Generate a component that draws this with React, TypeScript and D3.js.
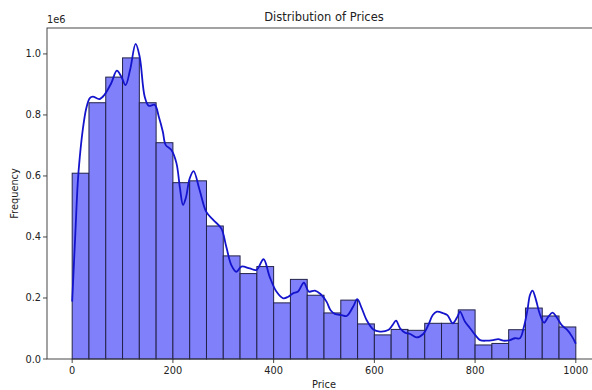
import React from "react";
import * as d3 from "d3";

const binStart = 0;
const binEnd = 1000;
const binCounts = [
  0.609, 0.84, 0.924, 0.987, 0.84, 0.709, 0.578, 0.584, 0.436, 0.338,
  0.28, 0.303, 0.184, 0.261, 0.209, 0.151, 0.193, 0.115, 0.079, 0.097,
  0.094, 0.117, 0.117, 0.161, 0.046, 0.051, 0.096, 0.167, 0.141, 0.105,
].map((v) => v * 1e6);

const kdePrice = [
  0, 6.5, 11, 15, 21, 28, 35, 41, 54, 64, 77.5, 88.7, 97.4, 106, 115, 126, 134, 144, 152, 164,
  172, 180, 185.5, 197, 207, 214, 220, 226, 233, 241, 253, 266, 280, 296, 306, 316, 326, 336,
  352.5, 366, 380, 392, 405.5, 419, 429, 438.5, 448.5, 460, 470, 482, 493, 505, 513, 521.5, 535,
  545, 558, 566, 575, 584.5, 598, 611, 627.5, 636, 643, 651, 661, 671, 684, 697, 707, 716, 724,
  737, 745, 755.5, 765, 770, 780, 790, 800, 810, 823, 836, 846, 856, 869, 879, 889, 897, 904,
  909, 914, 921, 928, 937, 945.5, 954, 962, 972, 982, 992, 1000,
];
const kdeValue = [
  0.188, 0.42, 0.576, 0.66, 0.751, 0.822, 0.855, 0.86, 0.852, 0.866, 0.904, 0.945, 0.926, 0.898,
  0.948, 1.033, 0.991, 0.86, 0.83, 0.833, 0.794, 0.745, 0.702, 0.685, 0.642, 0.56, 0.505, 0.53,
  0.59, 0.616, 0.554, 0.483, 0.456, 0.428, 0.368, 0.308, 0.286, 0.303, 0.297, 0.292, 0.327, 0.27,
  0.221, 0.199, 0.204, 0.215, 0.221, 0.25, 0.221, 0.224, 0.213, 0.188, 0.16, 0.148, 0.144, 0.141,
  0.172, 0.196, 0.166, 0.128, 0.097, 0.09, 0.095, 0.111, 0.126, 0.101, 0.086, 0.082, 0.071,
  0.082, 0.111, 0.144, 0.155, 0.15, 0.144, 0.117, 0.139, 0.155, 0.122, 0.101, 0.079, 0.062, 0.06,
  0.062, 0.065, 0.06, 0.062, 0.068, 0.068, 0.106, 0.161, 0.21, 0.224, 0.193, 0.15, 0.119, 0.139,
  0.152, 0.137, 0.111, 0.097, 0.075, 0.05,
].map((v) => v * 1e6);

const xTicks = [0, 200, 400, 600, 800, 1000];
const yTicks = [0, 0.2e6, 0.4e6, 0.6e6, 0.8e6, 1.0e6];
const yTickLabels = ["0.0", "0.2", "0.4", "0.6", "0.8", "1.0"];

const W = 592;
const H = 390;
const left = 47;
const right = 601;
const top = 28;
const bottom = 359;
const FONT = "DejaVu Sans, sans-serif";

export default function App() {
  const x = d3.scaleLinear().domain([-50, 1050]).range([left, right]);
  const y = d3.scaleLinear().domain([0, 1.085e6]).range([bottom, top]);
  const binW = (binEnd - binStart) / binCounts.length;

  const line = d3
    .line<number>()
    .x((_, i) => x(kdePrice[i]))
    .y((d) => y(d))
    .curve(d3.curveCatmullRom.alpha(0.5));

  return (
    <svg width={W} height={H} style={{ position: "absolute", left: 0, top: 0 }} fontFamily={FONT}>
      <rect width={W} height={H} fill="#fff" />
      {binCounts.map((c, i) => {
        const x0 = x(binStart + i * binW);
        const x1 = x(binStart + (i + 1) * binW);
        return (
          <rect
            key={i}
            x={x0}
            y={y(c)}
            width={x1 - x0}
            height={y(0) - y(c)}
            fill="#8080fa"
            stroke="#22224a"
            strokeWidth={1}
          />
        );
      })}
      <path d={line(kdeValue) || ""} fill="none" stroke="#1414cc" strokeWidth={1.8} />
      {/* spines */}
      <rect x={left} y={top} width={right - left} height={bottom - top} fill="none" stroke="#333" strokeWidth={0.9} />
      {xTicks.map((t) => (
        <g key={t}>
          <line x1={x(t)} x2={x(t)} y1={bottom} y2={bottom + 4} stroke="#333" strokeWidth={0.9} />
          <text x={x(t)} y={bottom + 15} textAnchor="middle" fontSize={9.8} fill="#222">
            {t}
          </text>
        </g>
      ))}
      {yTicks.map((t, i) => (
        <g key={t}>
          <line x1={left - 4} x2={left} y1={y(t)} y2={y(t)} stroke="#333" strokeWidth={0.9} />
          <text x={left - 6} y={y(t) + 3.5} textAnchor="end" fontSize={9.8} fill="#222">
            {yTickLabels[i]}
          </text>
        </g>
      ))}
      <text x={left} y={top - 5} fontSize={9.8} fill="#222">1e6</text>
      <text x={(left + right) / 2} y={top - 7} textAnchor="middle" fontSize={11.5} fill="#222">
        Distribution of Prices
      </text>
      <text x={(left + right) / 2} y={bottom + 29} textAnchor="middle" fontSize={9.8} fill="#222">
        Price
      </text>
      <text
        transform={`translate(${18},${(top + bottom) / 2}) rotate(-90)`}
        textAnchor="middle"
        fontSize={9.8}
        fill="#222"
      >
        Frequency
      </text>
    </svg>
  );
}
